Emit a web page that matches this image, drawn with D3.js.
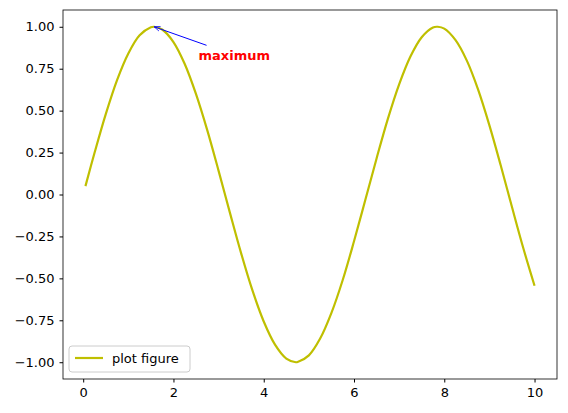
<!DOCTYPE html>
<html><head><meta charset="utf-8">
<script src="https://cdn.jsdelivr.net/npm/d3@7"></script>
<style>body{margin:0;background:#fff}text{font-family:"DejaVu Sans",sans-serif}</style>
</head><body>
<svg id="chart" width="568" height="413"></svg>
<script>
// values
const xs = [0.05,0.25,0.5,0.75,1,1.25,1.5,1.571,1.75,2,2.25,2.5,2.75,3,3.25,3.5,3.75,4,4.25,4.5,4.712,4.75,5,5.25,5.5,5.75,6,6.25,6.5,6.75,7,7.25,7.5,7.75,7.854,8,8.25,8.5,8.75,9,9.25,9.5,9.75,10];
const ys = [0.05,0.247,0.479,0.682,0.841,0.949,0.997,1,0.984,0.909,0.778,0.598,0.382,0.141,-0.108,-0.351,-0.572,-0.757,-0.895,-0.978,-1,-0.999,-0.959,-0.859,-0.706,-0.51,-0.279,-0.033,0.215,0.451,0.657,0.823,0.938,0.996,1,0.989,0.92,0.798,0.625,0.412,0.174,-0.075,-0.319,-0.544];
const xTicks = [0,2,4,6,8,10];
const yTicks = [-1,-0.75,-0.5,-0.25,0,0.25,0.5,0.75,1];
const peak = [1.571, 1];
const noteAt = [2.6, 0.8];

const svg = d3.select('#chart');
const L = 63, R = 557, T = 10, B = 379;
const x = d3.scaleLinear().domain([-0.4475, 10.4975]).range([L, R]);
const y = d3.scaleLinear().domain([-1.1, 1.1]).range([B, T]);

svg.append('g').attr('transform', `translate(0,${B})`)
  .call(d3.axisBottom(x).tickValues(xTicks).tickFormat(d3.format('d')).tickSizeOuter(0).tickSize(3.5).tickPadding(5))
  .call(g => g.selectAll('text').attr('font-size', 13).attr('fill', '#000'));
svg.append('g').attr('transform', `translate(${L},0)`)
  .call(d3.axisLeft(y).tickValues(yTicks).tickFormat(d3.format('.2f')).tickSizeOuter(0).tickSize(3.5).tickPadding(5))
  .call(g => g.selectAll('text').attr('font-size', 13).attr('fill', '#000'));
svg.selectAll('.domain').remove();
svg.append('rect').attr('x', L).attr('y', T).attr('width', R - L).attr('height', B - T)
  .attr('fill', 'none').attr('stroke', '#000').attr('stroke-width', 0.8);

const line = d3.line().x(d => x(d[0])).y(d => y(d[1])).curve(d3.curveCatmullRom);
svg.append('path').datum(xs.map((v, i) => [v, ys[i]])).attr('d', line)
  .attr('fill', 'none').attr('stroke', '#bfbf00').attr('stroke-width', 2.2);

// annotation
svg.append('defs').append('marker').attr('id', 'ah').attr('viewBox', '0 0 10 10')
  .attr('refX', 10).attr('refY', 5).attr('markerWidth', 6).attr('markerHeight', 6).attr('orient', 'auto')
  .append('path').attr('d', 'M0,1 L10,5 L0,9').attr('fill', 'none').attr('stroke', 'blue').attr('stroke-width', 1.2);
svg.append('line').attr('x1', x(noteAt[0]) + 6).attr('y1', y(noteAt[1]) - 15)
  .attr('x2', x(peak[0])).attr('y2', y(peak[1]))
  .attr('stroke', 'blue').attr('stroke-width', 1).attr('marker-end', 'url(#ah)');
svg.append('text').attr('x', x(noteAt[0]) - 2).attr('y', y(noteAt[1]))
  .attr('font-size', 13).attr('font-weight', 'bold').attr('fill', 'red').text('maximum');

// legend
const lg = svg.append('g').attr('transform', 'translate(69,346)');
lg.append('rect').attr('width', 121).attr('height', 26).attr('rx', 3)
  .attr('fill', '#fff').attr('fill-opacity', 0.8).attr('stroke', '#ccc');
lg.append('line').attr('x1', 6).attr('x2', 34).attr('y1', 12).attr('y2', 12)
  .attr('stroke', '#bfbf00').attr('stroke-width', 2.2);
lg.append('text').attr('x', 43).attr('y', 17).attr('font-size', 13).text('plot figure');
</script>
</body></html>
